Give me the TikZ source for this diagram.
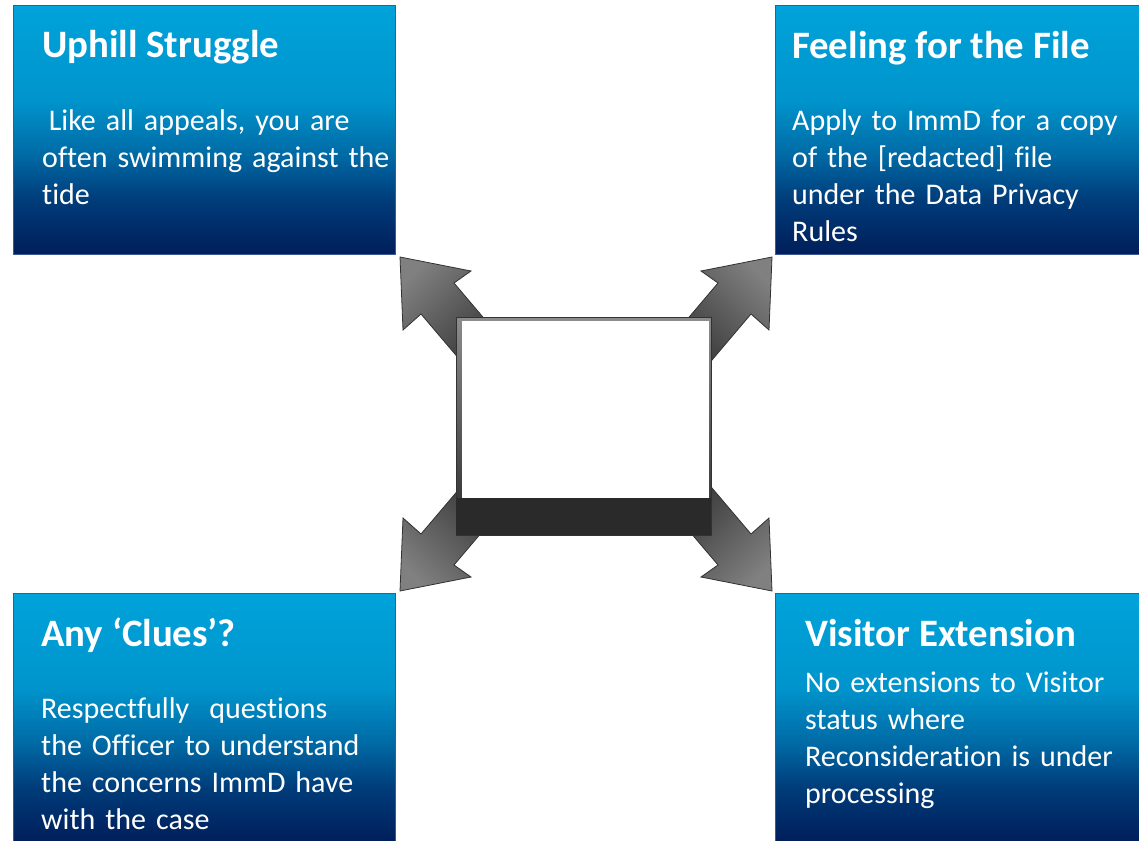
\documentclass[tikz,border=0pt]{standalone}
\usepackage{fontspec}
\setmainfont{Carlito}[Ligatures=NoCommon]
\usetikzlibrary{calc}

\definecolor{tileline}{RGB}{62,88,150}
\definecolor{tilea}{RGB}{0,30,90}
\definecolor{tileb}{RGB}{0,60,122}
\definecolor{tilec}{RGB}{0,106,165}
\definecolor{tiled}{RGB}{0,148,204}
\definecolor{tilee}{RGB}{0,163,218}
\definecolor{arrowlight}{RGB}{128,128,128}
\definecolor{arrowdark}{RGB}{62,62,62}
\definecolor{arrowline}{RGB}{50,50,50}
\definecolor{hubgrey}{RGB}{140,140,140}
\definecolor{hubdark}{RGB}{42,42,42}
\pgfdeclareverticalshading{tileshade}{100bp}{color(0bp)=(tilea); color(25bp)=(tilea);
  color(36bp)=(tileb); color(45bp)=(tilec); color(56bp)=(tiled); color(75bp)=(tilee); color(100bp)=(tilee)}

\begin{document}
\begin{tikzpicture}[x=1pt,y=-1pt,
    tile/.style={rectangle, anchor=north west, inner sep=0pt, minimum width=#1,
      minimum height=249pt, draw=tileline, line width=0.8pt, shade, shading=tileshade},
    title/.style={anchor=base west, inner sep=0pt, text=white,
      font=\bfseries\fontsize{38.8}{42}\selectfont},
    body/.style={anchor=base west, inner sep=0pt, text=white, align=left,
      text width=360pt, font=\fontsize{30}{37}\selectfont},
    fanarrow/.style={draw=arrowline, line width=0.8pt, top color=arrowlight, bottom color=arrowdark},
    hubframe/.style={rectangle, inner sep=0pt, minimum width=255pt, minimum height=218pt,
      draw=arrowline, line width=0.8pt, top color=hubgrey, bottom color=hubdark}]
\useasboundingbox (0,0) rectangle (1139,840);

% the four tiles
\node[tile=382pt] (uphill) at (13,5) {};
\node[tile=366pt] (filecopy) at (775,5) {};
\node[tile=382pt] (clues) at (13,593) {};
\node[tile=366pt] (visitor) at (775,593) {};

\node[title] (uphillT) at ($(uphill.north west)+(29,53)$) {Uphill Struggle};
\node[body] (uphillB) at ($(uphill.north west)+(29,125)$)
  {\hspace{0.22em}Like all appeals, you are\\often swimming against the\\tide};

\node[title] (filecopyT) at ($(filecopy.north west)+(17,54)$) {Feeling for the File};
\node[body] (filecopyB) at ($(filecopy.north west)+(17,125)$)
  {Apply to ImmD for a copy\\of the [redacted] file\\under the Data Privacy\\Rules};

\node[title] (cluesT) at ($(clues.north west)+(28,53)$) {Any ‘Clues’?};
\node[body] (cluesB) at ($(clues.north west)+(28,125)$)
  {Respectfully\ \ questions\\the Officer to understand\\the concerns ImmD have\\with the case};

\node[title] (visitorT) at ($(visitor.north west)+(30,53)$) {Visitor Extension};
\node[body] (visitorB) at ($(visitor.north west)+(30,99)$)
  {No extensions to Visitor\\status where\\Reconsideration is under\\processing};

% block arrows out of the hub
\coordinate (fan) at (586,424);
\foreach \sx/\sy/\ang in {1/1/45,-1/1/-45,1/-1/135,-1/-1/-135}
  \draw[fanarrow, shading angle=\ang, shift={(fan)}]
    ({-186*\sx},{-167*\sy}) -- ({-115*\sx},{-153*\sy}) -- ({-132*\sx},{-141*\sy})
    -- ({-93*\sx},{-95*\sy}) -- ({-126*\sx},{-64*\sy}) -- ({-165*\sx},{-110*\sy})
    -- ({-183*\sx},{-94*\sy}) -- cycle;

% the hub
\node[hubframe] (hub) at (583.5,426) {};
\fill[white] ($(hub.north west)+(6,4)$) rectangle ($(hub.north east)+(-2,181)$);
\fill[hubdark] ($(hub.north west)+(0.4,181)$) rectangle ($(hub.south east)+(-0.4,-0.4)$);
\end{tikzpicture}
\end{document}
